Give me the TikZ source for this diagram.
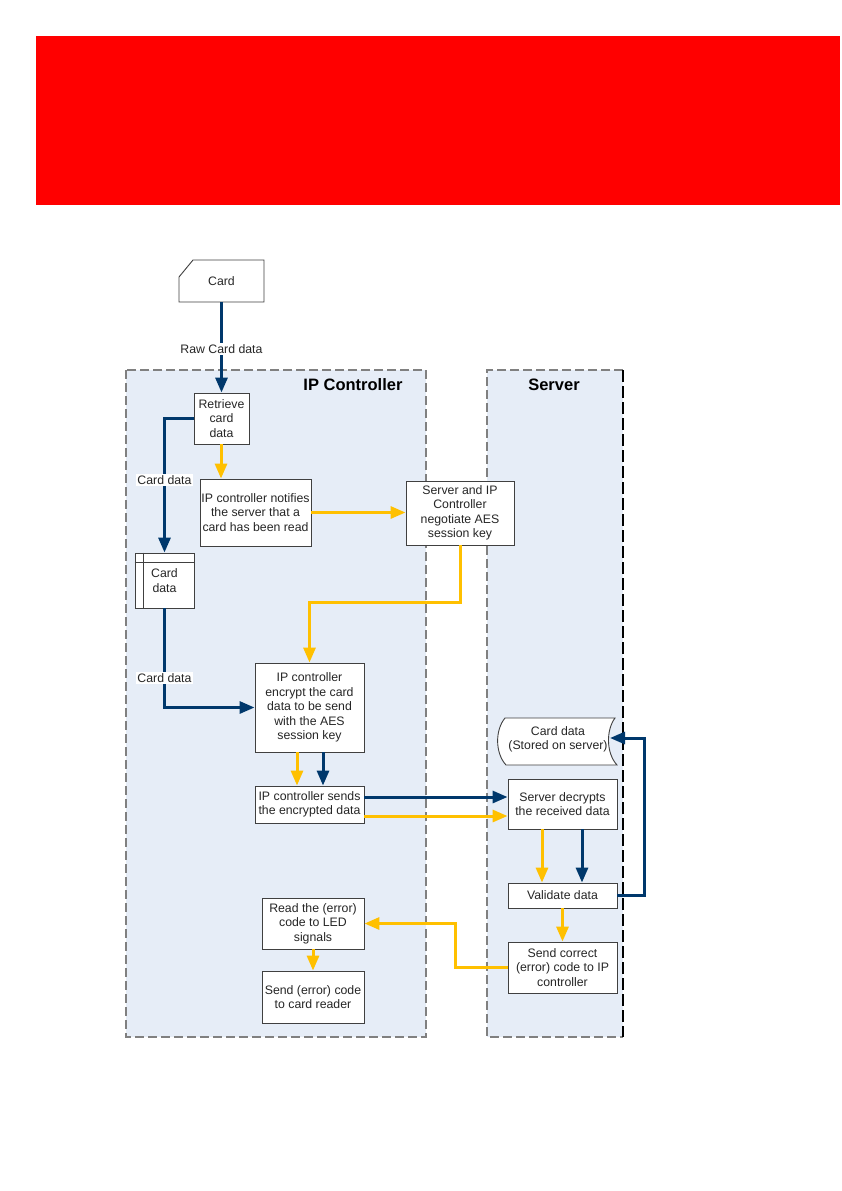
\documentclass[tikz,border=0pt]{standalone}
\usepackage{fontspec}
\setmainfont{Liberation Sans}
\usetikzlibrary{arrows.meta,calc}
\definecolor{lanefill}{RGB}{230,237,247}
\definecolor{flowblue}{RGB}{0,56,108}
\definecolor{flowyellow}{RGB}{255,192,0}
\definecolor{boxline}{RGB}{64,64,64}
\definecolor{banner}{RGB}{255,0,0}
\definecolor{lanegray}{RGB}{128,128,128}
\begin{document}
\begin{tikzpicture}[x=1pt,y=-1pt,
  txt/.style={font=\fontsize{12.3}{14.5}\selectfont, text=black!85},
  box/.style={txt, draw=boxline, line width=0.9pt, fill=white, inner sep=1pt, align=center},
  lab/.style={txt, fill=white, inner sep=1.5pt},
  title/.style={font=\fontsize{16.5}{19}\selectfont\bfseries, text=black},
  bflow/.style={draw=flowblue, line width=3pt, -{Triangle[length=15pt,width=12pt]}},
  yflow/.style={draw=flowyellow, line width=3pt, -{Triangle[length=15pt,width=12pt]}},
  lanedash/.style={draw=lanegray, line width=1.2pt, dash pattern=on 9pt off 4pt},
  serverdash/.style={draw=black, line width=1.1pt, dash pattern=on 12pt off 4pt}
]
\useasboundingbox (0,0) rectangle (841,1191);
% banner
\fill[banner] (36,36) rectangle (840,205);
% lanes
\fill[lanefill] (126,370) rectangle (426,1037);
\draw[lanedash] (126,370) rectangle (426,1037);
\fill[lanefill] (487,370) rectangle (623,1037);
\draw[lanedash] (623,370) -- (487,370) -- (487,1037) -- (623,1037);
\draw[serverdash] (623,370) -- (623,1037);
\node[title] (iptitle) at (353,385) {IP Controller};
\node[title] (srvtitle) at (554,385) {Server};

% card shape
\draw[draw=boxline, line width=0.9pt, fill=white] (179,277) -- (193,260) -- (264,260) -- (264,302) -- (179,302) -- cycle;
\node[txt, minimum width=85pt, minimum height=42pt, inner sep=0pt] (card) at (221.5,281) {Card};

% server stored data shape
\draw[draw=boxline, line width=0.9pt, fill=white] (505,718) -- (615,718)
  .. controls (606,730) and (606,753) .. (617,765) -- (506,765)
  .. controls (495,753) and (495,730) .. (505,718) -- cycle;
\node[txt, align=center, inner sep=0pt] (ss) at (558,739.5) {Card data\\(Stored on server)};
\coordinate (ssE) at (610,738);

% boxes
\node[box, minimum width=55pt, minimum height=51pt] (retrieve) at (221.5,418.5) {Retrieve\\card\\data};
\node[box, minimum width=111pt, minimum height=67pt] (notify) at (255.5,512.5) {IP controller notifies\\the server that a\\card has been read};
\node[box, minimum width=108pt, minimum height=64pt] (negotiate) at (460,513) {Server and IP\\Controller\\negotiate AES\\session key};
\node[box, minimum width=59pt, minimum height=55pt] (store) at (164.5,580.5) {Card\\data};
\draw[draw=boxline, line width=0.9pt] ($(store.north west)+(0,10)$) -- ($(store.north east)+(0,10)$);
\draw[draw=boxline, line width=0.9pt] ($(store.north west)+(9,0)$) -- ($(store.south west)+(9,0)$);
\node[box, minimum width=109pt, minimum height=89pt] (encrypt) at (309.5,707.5) {IP controller\\encrypt the card\\data to be send\\with the AES\\session key};
\node[box, minimum width=109pt, minimum height=37pt] (sends) at (309.5,804.5) {IP controller sends\\the encrypted data};
\node[box, minimum width=109pt, minimum height=50pt] (decrypts) at (562.5,804) {Server decrypts\\the received data};
\node[box, minimum width=109pt, minimum height=25pt] (validate) at (562.5,895.5) {Validate data};
\node[box, minimum width=109pt, minimum height=51pt] (sendcorrect) at (562.5,967.5) {Send correct\\(error) code to IP\\controller};
\node[box, minimum width=102pt, minimum height=51pt] (read) at (313,923.5) {Read the (error)\\code to LED\\signals};
\node[box, minimum width=102pt, minimum height=52pt] (senderr) at (313,997) {Send (error) code\\to card reader};

% connectors
\draw[bflow] (card.south) -- (retrieve.north) node[lab, pos=0.52] {Raw Card data};
\draw[bflow] (retrieve.west) -| (store.north) node[lab, pos=0.73] {Card data};
\draw[bflow] (store.south) |- (encrypt.west) node[lab, pos=0.35] {Card data};
\draw[yflow] ([xshift=-0.5pt]retrieve.south) -- ([xshift=-0.5pt]retrieve.south |- notify.north);
\draw[yflow] (notify.east) -- (notify.east -| negotiate.west);
\coordinate (ybend) at (0,602);
\draw[yflow] (negotiate.south) -- (negotiate.south |- ybend) -| (encrypt.north);
\coordinate (e1) at ($(encrypt.south)+(-12.5,0)$);
\coordinate (e2) at ($(encrypt.south)+(13.5,0)$);
\draw[yflow] (e1) -- (e1 |- sends.north);
\draw[bflow] (e2) -- (e2 |- sends.north);
\coordinate (s1) at ($(sends.east)+(0,-7.5)$);
\coordinate (s2) at ($(sends.east)+(0,11.5)$);
\draw[bflow] (s1) -- (s1 -| decrypts.west);
\draw[yflow] (s2) -- (s2 -| decrypts.west);
\coordinate (d1) at ($(decrypts.south)+(-20.5,0)$);
\coordinate (d2) at ($(decrypts.south)+(19.5,0)$);
\draw[yflow] (d1) -- (d1 |- validate.north);
\draw[bflow] (d2) -- (d2 |- validate.north);
\draw[bflow] (validate.east) -- ++(27,0) |- (ssE);
\draw[yflow] (validate.south) -- (sendcorrect.north);
\draw[yflow] (sendcorrect.west) -- ++(-52,0) |- (read.east);
\draw[yflow] (read.south) -- (senderr.north);
\end{tikzpicture}
\end{document}
